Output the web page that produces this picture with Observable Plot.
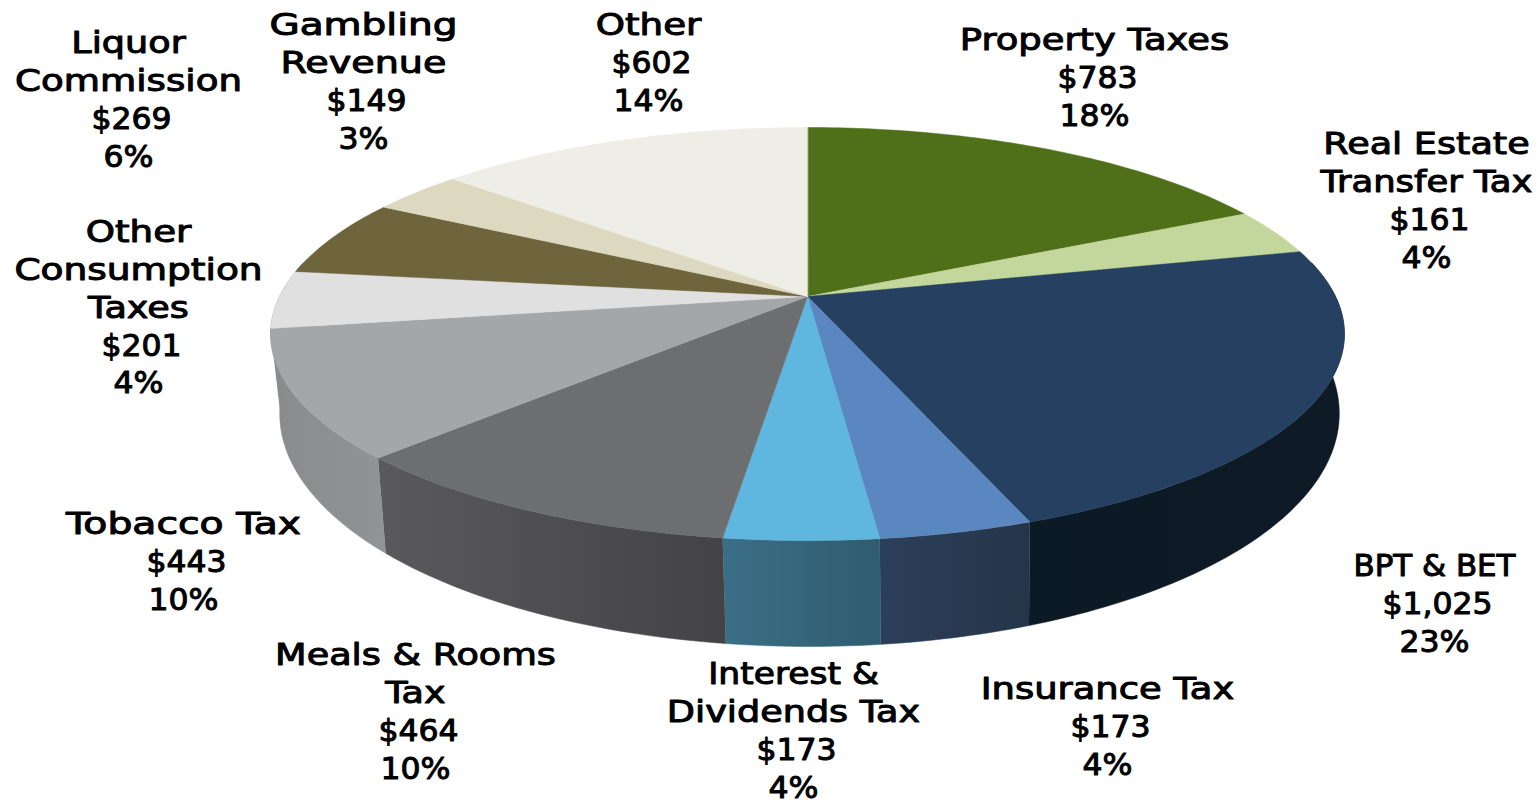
<!DOCTYPE html>
<html>
<head>
<meta charset="utf-8">
<style>html,body{margin:0;padding:0;background:#fff;}svg{display:block;}</style>
<script src="https://cdn.jsdelivr.net/npm/d3@7"></script>
<script src="https://cdn.jsdelivr.net/npm/@observablehq/plot@0.6"></script>
</head>
<body>
<div id="chart"></div>
<script>
// ---- data ----
const names = [
  ["Property Taxes"], ["Real Estate", "Transfer Tax"], ["BPT & BET"], ["Insurance Tax"],
  ["Interest &", "Dividends Tax"], ["Meals & Rooms", "Tax"], ["Tobacco Tax"],
  ["Other", "Consumption", "Taxes"], ["Liquor", "Commission"], ["Gambling", "Revenue"], ["Other"]
];
const values = [783, 161, 1025, 173, 173, 464, 443, 201, 269, 149, 602];
const percents = [18, 4, 23, 4, 4, 10, 10, 4, 6, 3, 14];

// ---- styles ----
const topColors = ["#4f6f19","#c3d69b","#254061","#5a87bf","#5fb6de","#6d6e70","#a5a6a8","#e0e0e1","#6e653c","#ddd8c0","#eeeee6"];
const sideStops = [
  ["#3f5814","#3f5814"],["#9aaa7a","#9aaa7a"],["#0c1a26","#0e1b27"],["#2c3f5a","#253549"],["#3b6f88","#2f5c6e"],
  ["#5a5a5c","#434345"],["#8a8b8d","#929394"],["#8a8b8d","#8a8b8d"],["#555","#555"],["#aaa","#aaa"],["#bbb","#bbb"]
];

// ---- layout ----
const labelX = [1094,1426,1434,1107,793,415,183,138,128,363,648];
const labelY = [40,144,566,689,674,655,524,232,43,25,25];
const lineStep = 37.8;
const numberStretch = 1.05;
// horizontal stretch of each name line, fitted to the reference's text widths
const nameStretch = [
  [1.23], [1.22, 1.18], [1.03], [1.23], [1.15, 1.22], [1.22, 1.22], [1.31], [1.24, 1.25, 1.22], [1.22, 1.24], [1.30, 1.27], [1.24]
];

// perspective disc: top face and bottom face of the cylinder
const topFace = {cx: 807, cy: 296, A: 528, B: 199.7, k: 0.1816};
const botFace = {cx: 809, cy: 370.7, A: 521, B: 225.3, k: 0.1816};
const project = (f, deg) => {
  const a = deg * Math.PI / 180, s = 1 / (1 + f.k * Math.cos(a));
  return [f.cx + f.A * Math.sin(a) * s, f.cy - f.B * Math.cos(a) * s];
};

const total = d3.sum(values);
const cum = d3.cumsum(values);
const angles = values.map((v, i) => [(cum[i] - v) / total * 360, cum[i] / total * 360]);
const arcDegs = (a0, a1) => {
  const n = Math.max(2, Math.ceil((a1 - a0) / 1));
  return d3.range(n + 1).map(j => a0 + (a1 - a0) * j / n);
};

const topRows = [], sideRows = [];
angles.forEach(([a0, a1], i) => {
  const color = topColors[i];
  topRows.push({id: i, x: topFace.cx, y: topFace.cy, c: color});
  arcDegs(a0, a1).forEach(d => {
    const [x, y] = project(topFace, d);
    topRows.push({id: i, x, y, c: color});
  });
  const s0 = Math.max(a0, 80), s1 = Math.min(a1, 280);
  if (s1 > s0) {
    const fill = `url(#side${i})`;
    arcDegs(s0, s1).forEach(d => {
      const [x, y] = project(topFace, d);
      sideRows.push({id: i, x, y, c: fill});
    });
    arcDegs(s0, s1).reverse().forEach(d => {
      const [x, y] = project(botFace, d);
      sideRows.push({id: i, x, y, c: fill});
    });
  }
});

const nameRows = [], numberRows = [];
names.forEach((lines, i) => {
  lines.forEach((t, j) => nameRows.push({t, x: labelX[i], y: labelY[i] + j * lineStep, k: nameStretch[i][j]}));
  const n = lines.length;
  numberRows.push({t: "$" + d3.format(",")(values[i]), x: labelX[i] + 3, y: labelY[i] + n * lineStep, k: numberStretch});
  numberRows.push({t: percents[i] + "%", x: labelX[i], y: labelY[i] + (n + 1) * lineStep, k: numberStretch});
});

const stretch = rows => (index, scales, vals, dims, ctx, next) => {
  const g = next(index, scales, vals, dims, ctx);
  g.querySelectorAll("text").forEach((t, j) => {
    const tr = t.getAttribute("transform") || "";
    t.setAttribute("transform", tr + ` scale(${rows[index[j]].k},1)`);
  });
  return g;
};

const defs = () => {
  const d = d3.create("svg:defs");
  sideStops.forEach((s, i) => {
    const g = d.append("linearGradient").attr("id", `side${i}`).attr("x1", 0).attr("x2", 1).attr("y1", 0).attr("y2", 0);
    g.append("stop").attr("offset", 0).attr("stop-color", s[0]);
    g.append("stop").attr("offset", 1).attr("stop-color", s[1]);
  });
  return d.node();
};

const textStyle = {
  x: "x", y: "y", text: "t", textAnchor: "middle", lineAnchor: "middle",
  fontFamily: "DejaVu Sans", fontSize: 30, fill: "#000", stroke: "#000", strokeWidth: 1
};

const chart = Plot.plot({
  width: 1539, height: 804,
  marginTop: 0, marginRight: 0, marginBottom: 0, marginLeft: 0,
  x: {domain: [0, 1539], range: [0, 1539], axis: null},
  y: {domain: [0, 804], range: [0, 804], axis: null},
  color: {type: "identity"},
  style: {background: "#fff"},
  marks: [
    defs,
    Plot.line(sideRows, {x: "x", y: "y", z: "id", fill: "c", stroke: "c", strokeWidth: 0.5, curve: "linear"}),
    Plot.line(topRows, {x: "x", y: "y", z: "id", fill: "c", stroke: "c", strokeWidth: 0.5, curve: "linear-closed"}),
    Plot.text(nameRows, {...textStyle, render: stretch(nameRows)}),
    Plot.text(numberRows, {...textStyle, render: stretch(numberRows)})
  ]
});
document.getElementById("chart").append(chart);
</script>
</body>
</html>
